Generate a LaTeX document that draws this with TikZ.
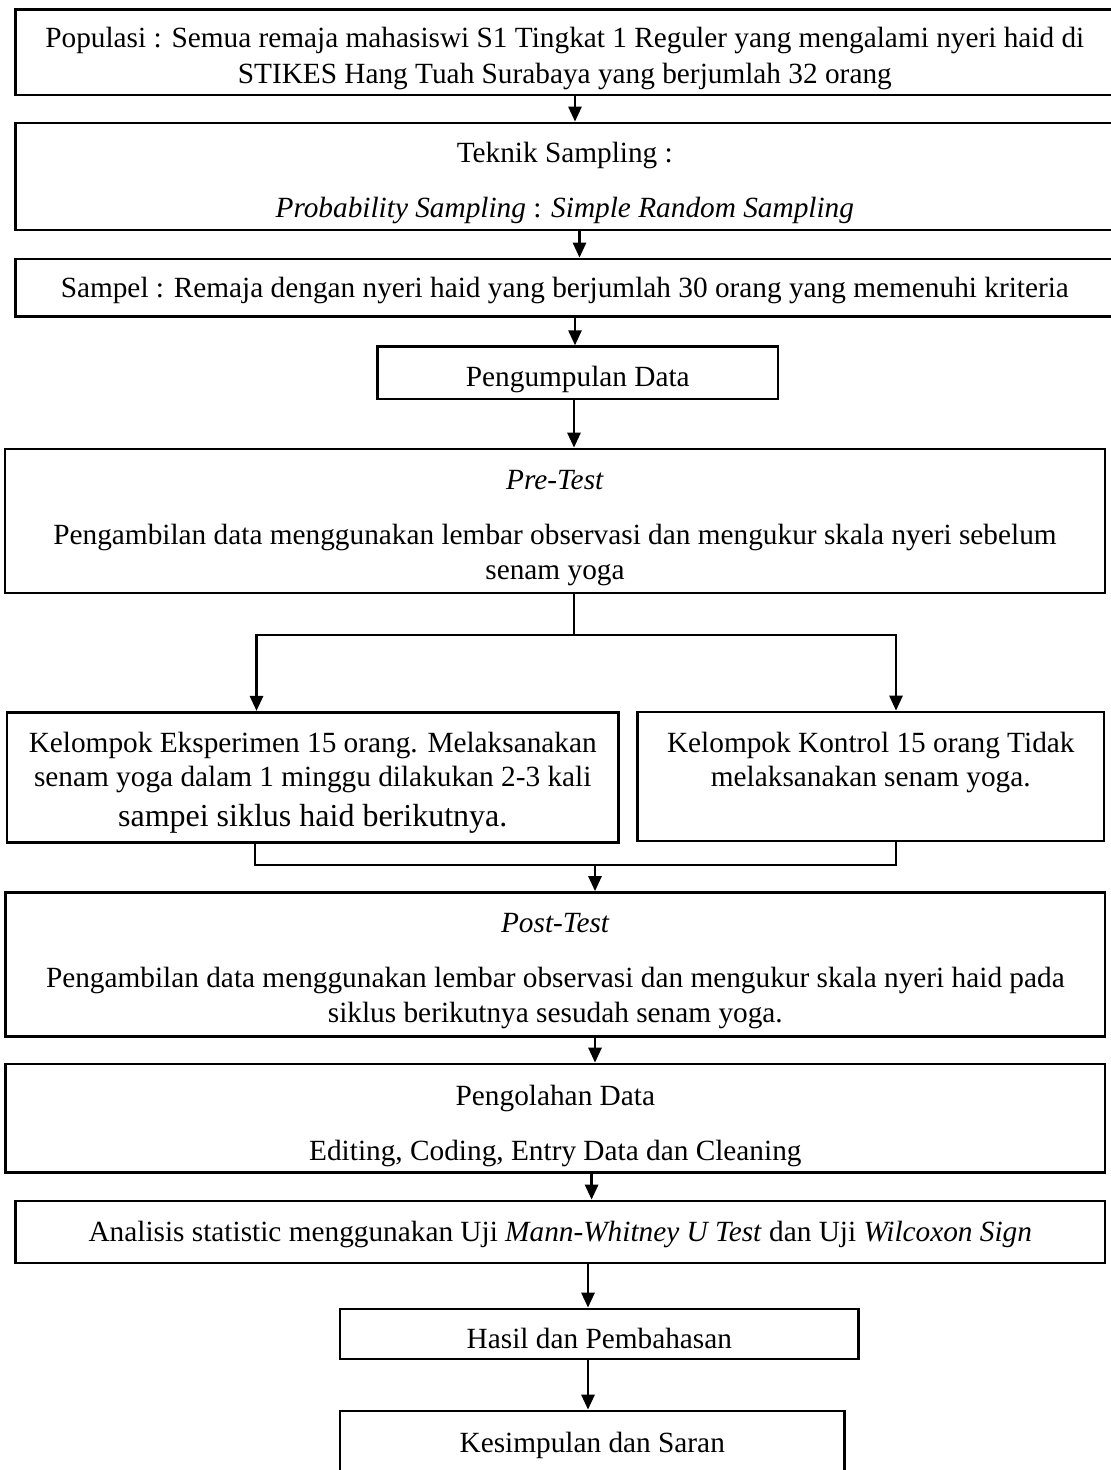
\documentclass[tikz,border=0pt]{standalone}
\usepackage{fontspec}
\setmainfont{Liberation Serif}
\usetikzlibrary{arrows.meta}
\begin{document}
\begin{tikzpicture}[x=1pt,y=-1pt,
  box/.style={draw, line width=2.7pt, rectangle, inner sep=0pt},
  txt/.style={align=center, inner sep=0pt, font=\fontsize{29.3}{34.5}\selectfont},
  arr/.style={line width=2.7pt, -{Triangle[length=15pt,width=13pt]}},
  ln/.style={line width=2.7pt}]
\useasboundingbox[fill=white] (0,0) rectangle (1111,1470);

% boxes
\node[box, minimum width=1098.4pt, minimum height=85.7pt] (pop) at (564.8,52.15) {};
\node[box, minimum width=1098.4pt, minimum height=107pt] (tek) at (564.8,176.5) {};
\node[box, minimum width=1098.4pt, minimum height=57.7pt] (sam) at (564.8,287.85) {};
\node[box, minimum width=400.4pt, minimum height=52.3pt] (peng) at (577.8,372.85) {};
\node[box, minimum width=1100pt, minimum height=144pt] (pre) at (555,521) {};
\node[box, minimum width=611.5pt, minimum height=130.4pt] (eks) at (312.75,777.5) {};
\node[box, minimum width=466.4pt, minimum height=129pt] (kon) at (870.8,776.5) {};
\node[box, minimum width=1099.3pt, minimum height=144.2pt] (post) at (555.35,964.6) {};
\node[box, minimum width=1099.3pt, minimum height=108.7pt] (olah) at (555.35,1118.35) {};
\node[box, minimum width=1089.4pt, minimum height=62pt] (ana) at (560.3,1232) {};
\node[box, minimum width=518.7pt, minimum height=50pt] (has) at (599.35,1334) {};
\node[box, minimum width=504.5pt, minimum height=69pt] (kes) at (592.25,1445.5) {};

% texts
\node[txt, font=\fontsize{29.3}{36.5}\selectfont] (popt) at ([yshift=-6.5pt]pop.center)
  {Populasi : Semua remaja mahasiswi S1 Tingkat 1 Reguler yang mengalami nyeri haid di\\STIKES Hang Tuah Surabaya yang berjumlah 32 orang};
\node[txt] (tekt) at ([yshift=-6pt]tek.center)
  {Teknik Sampling :\\[20.5pt]\textit{Probability Sampling} : \textit{Simple Random Sampling}};
\node[txt] (samt) at ([yshift=-3pt]sam.center)
  {Sampel : Remaja dengan nyeri haid yang berjumlah 30 orang yang memenuhi kriteria};
\node[txt] (pengt) at ([yshift=-6.5pt]peng.center) {Pengumpulan Data};
\node[txt] (pret) at ([yshift=-7pt]pre.center)
  {\textit{Pre-Test}\\[20.5pt]Pengambilan data menggunakan lembar observasi dan mengukur skala nyeri sebelum\\senam yoga};
\node[txt] (ekst) at ([yshift=-5pt]eks.center)
  {Kelompok Eksperimen 15 orang. Melaksanakan\\senam yoga dalam 1 minggu dilakukan 2-3 kali\\[5pt]{\fontsize{32}{38}\selectfont sampei siklus haid berikutnya.}};
\node[txt] (kont) at ([yshift=-5pt]kon.center)
  {Kelompok Kontrol 15 orang Tidak\\melaksanakan senam yoga.\\\strut};
\node[txt] (postt) at ([yshift=-6.5pt]post.center)
  {\textit{Post-Test}\\[20.5pt]Pengambilan data menggunakan lembar observasi dan mengukur skala nyeri haid pada\\siklus berikutnya sesudah senam yoga.};
\node[txt] (olaht) at ([yshift=-8pt]olah.center)
  {Pengolahan Data\\[20.5pt]Editing, Coding, Entry Data dan Cleaning};
\node[txt] (anat) at ([yshift=-2pt]ana.center)
  {Analisis statistic menggunakan Uji \textit{Mann-Whitney U Test} dan Uji \textit{Wilcoxon Sign}};
\node[txt] (hast) at ([yshift=-4pt]has.center) {Hasil dan Pembahasan};
\node[txt] (kest) at (kes.center) {Kesimpulan dan Saran};

% helper x positions
\coordinate (x1) at (575,0);
\coordinate (x2) at (579.5,0);
\coordinate (x4) at (574,0);
\coordinate (xl) at (256.5,0);
\coordinate (xl2) at (255,0);
\coordinate (xr) at (896,0);
\coordinate (xm) at (595,0);
\coordinate (x9) at (591.6,0);
\coordinate (x10) at (588,0);
\coordinate (split) at (574,635);
\coordinate (merge) at (595,865);

\draw[arr] (pop.south -| x1) -- (tek.north -| x1);
\draw[arr] (tek.south -| x2) -- (sam.north -| x2);
\draw[arr] (sam.south -| x1) -- (peng.north -| x1);
\draw[arr] (peng.south -| x4) -- (pre.north -| x4);
\draw[ln] (pre.south -| x4) -- (split);
\draw[arr] (split) -| (eks.north -| xl);
\draw[arr] (split) -| (kon.north -| xr);
\draw[ln] (eks.south -| xl2) |- (merge) -| (kon.south -| xr);
\draw[arr] (merge) -- (post.north -| xm);
\draw[arr] (post.south -| xm) -- (olah.north -| xm);
\draw[arr] (olah.south -| x9) -- (ana.north -| x9);
\draw[arr] (ana.south -| x10) -- (has.north -| x10);
\draw[arr] (has.south -| x10) -- (kes.north -| x10);
\end{tikzpicture}
\end{document}
